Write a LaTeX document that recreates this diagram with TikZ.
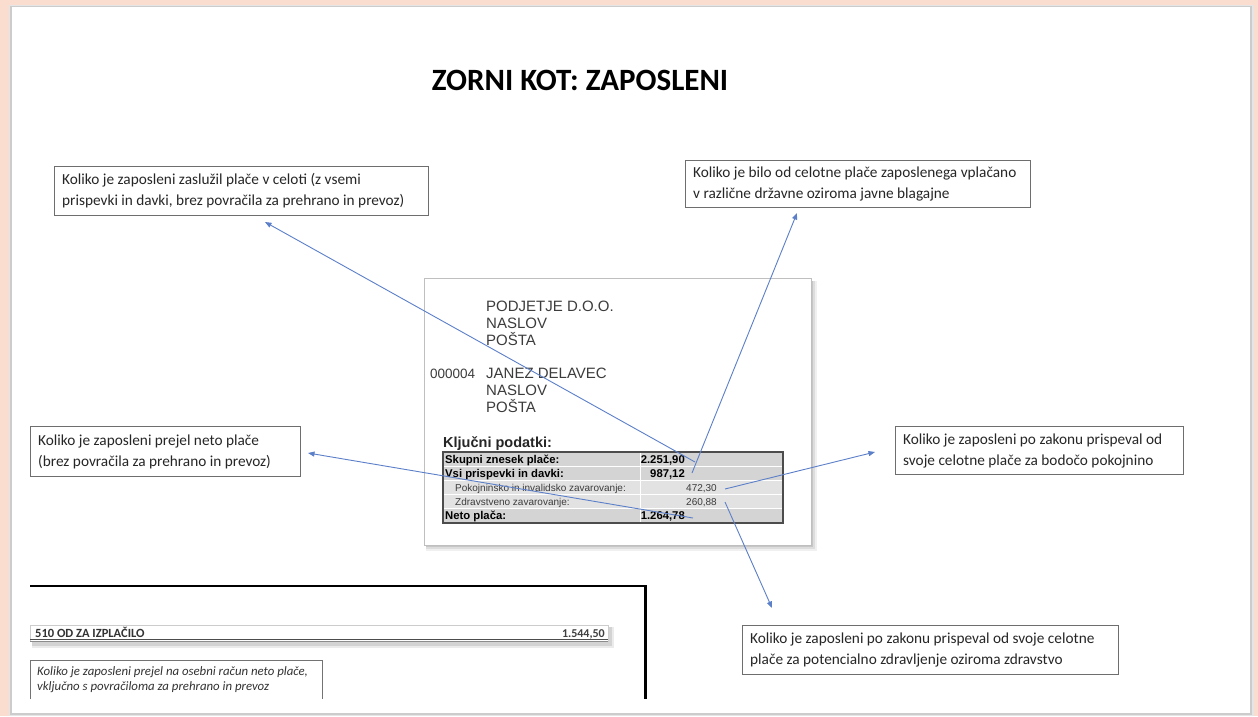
\documentclass[tikz,border=0pt]{standalone}
\usepackage{fontspec}
\setmainfont{Carlito}
\newfontfamily\arialf{Liberation Sans}
\usetikzlibrary{arrows.meta}
\definecolor{peach}{HTML}{FBDDCF}
\definecolor{arrowblue}{HTML}{5B7FC8}
\definecolor{boxline}{HTML}{6E6E6E}
\definecolor{boxtext}{HTML}{262626}
\definecolor{doctext}{HTML}{3C3C3C}
\definecolor{rowgray}{HTML}{D4D4D4}
\definecolor{rowlight}{HTML}{E2E2E2}
\tikzset{
  notebox/.style={draw=boxline, line width=1pt, fill=white, anchor=north west, inner sep=0pt},
  notetext/.style={anchor=west, align=flush left, inner sep=0pt, text=boxtext,
    font=\fontsize{15.3}{21}\selectfont},
  addr/.style={anchor=base west, inner sep=0pt, text=doctext, font=\arialf\fontsize{15}{18}\selectfont},
  tlab/.style={anchor=base west, inner sep=0pt, text=black, font=\arialf\bfseries\fontsize{11.3}{13}\selectfont},
  tval/.style={anchor=base east, inner sep=0pt, text=black, font=\arialf\bfseries\fontsize{11.3}{13}\selectfont},
  tlabs/.style={anchor=base west, inner sep=0pt, text=doctext, font=\arialf\fontsize{10}{12}\selectfont},
  tvals/.style={anchor=base east, inner sep=0pt, text=doctext, font=\arialf\fontsize{10}{12}\selectfont},
  conn/.style={draw=arrowblue, line width=0.9pt, -{Triangle[length=6.5pt,width=5pt]}},
}
\begin{document}
\begin{tikzpicture}[x=1pt,y=-1pt]
\fill[peach] (0,0) rectangle (1258,716);
\useasboundingbox (0,0) rectangle (1258,716);
% page with soft edge
\fill[black!10] (9,5) rectangle (1254,716);
\fill[black!20] (10,6) rectangle (1252,715);
\fill[white] (12,7) rectangle (1250,713);

% title
\node[font=\fontsize{31}{36}\selectfont\bfseries, text=black] (title) at (580,80) {ZORNI KOT: ZAPOSLENI};

% central document with shadow
\fill[black, opacity=0.06] (426,281) rectangle (817,551);
\fill[black, opacity=0.08] (426,281) rectangle (815,549);
\fill[black, opacity=0.10] (426,281) rectangle (813,547);
\node[draw=black!25, fill=white, line width=0.5pt, minimum width=387pt, minimum height=267pt, anchor=north west, inner sep=0pt] (doc) at (424,278) {};

\node[addr] (co1) at (486,311) {PODJETJE D.O.O.};
\node[addr] (co2) at (486,328) {NASLOV};
\node[addr] (co3) at (486,345) {POŠTA};
\node[addr, font=\arialf\fontsize{13.5}{16}\selectfont] (num) at (430,378) {000004};
\node[addr] (em1) at (486,378) {JANEZ DELAVEC};
\node[addr] (em2) at (486,395) {NASLOV};
\node[addr] (em3) at (486,412) {POŠTA};

\node[anchor=base west, inner sep=0pt, font=\arialf\bfseries\fontsize{14.5}{17}\selectfont, text=black!85] (kp) at (443,447) {Ključni podatki:};

% table
\fill[rowgray] (443,452) rectangle (783,480.4);
\fill[rowlight] (443,480.4) rectangle (783,508.8);
\fill[rowgray] (443,508.8) rectangle (783,523);
\foreach \yy in {466.2,480.4,494.6,508.8}{\draw[white, line width=0.8pt] (443,\yy) -- (783,\yy);}
\draw[white, line width=0.8pt] (640,452) -- (640,523);
\draw[black!70, line width=1.4pt] (443,452) rectangle (783,523);

\node[tlab] (l1) at (445,463) {Skupni znesek plače:};
\node[tval] (v1) at (685,463) {2.251,90};
\node[tlab] (l2) at (445,477) {Vsi prispevki in davki:};
\node[tval] (v2) at (685,477) {987,12};
\node[tlabs] (l3) at (455,491) {Pokojninsko in invalidsko zavarovanje:};
\node[tvals] (v3) at (717,491) {472,30};
\node[tlabs] (l4) at (455,505) {Zdravstveno zavarovanje:};
\node[tvals] (v4) at (717,505) {260,88};
\node[tlab] (l5) at (445,519) {Neto plača:};
\node[tval] (v5) at (685,519) {1.264,78};

% annotation boxes
\node[notebox, minimum width=374pt, minimum height=49pt] (tl) at (54,166) {};
\node[notetext] (tlt) at ([xshift=8pt]tl.west)
  {Koliko je zaposleni zaslužil plače v celoti (z vsemi\\prispevki in davki, brez povračila za prehrano in prevoz)};
\node[notebox, minimum width=345pt, minimum height=47pt] (tr) at (685,160) {};
\node[notetext] (trt) at ([xshift=8pt]tr.west)
  {Koliko je bilo od celotne plače zaposlenega vplačano\\v različne državne oziroma javne blagajne};
\node[notebox, minimum width=270pt, minimum height=50pt] (lb) at (30,426) {};
\node[notetext] (lbt) at ([xshift=8pt]lb.west)
  {Koliko je zaposleni prejel neto plače\\(brez povračila za prehrano in prevoz)};
\node[notebox, minimum width=288pt, minimum height=48pt] (rb) at (895,426) {};
\node[notetext] (rbt) at ([xshift=8pt]rb.west)
  {Koliko je zaposleni po zakonu prispeval od\\svoje celotne plače za bodočo pokojnino};
\node[notebox, minimum width=376pt, minimum height=49pt] (br) at (742,625) {};
\node[notetext] (brt) at ([xshift=8pt]br.west)
  {Koliko je zaposleni po zakonu prispeval od svoje celotne\\plače za potencialno zdravljenje oziroma zdravstvo};

% connectors
\coordinate (s1) at (695,462);  \coordinate (e1) at (265,222);
\coordinate (s2) at (692,473);  \coordinate (e2) at (797,213);
\coordinate (s3) at (725,489);  \coordinate (e3) at (875,452);
\coordinate (s4) at (725,502);  \coordinate (e4) at (772,608);
\coordinate (s5) at (693,518);  \coordinate (e5) at (308,453);
\draw[conn] (s1) -- (e1);
\draw[conn] (s2) -- (e2);
\draw[conn] (s3) -- (e3);
\draw[conn] (s4) -- (e4);
\draw[conn] (s5) -- (e5);

% bottom-left excerpt
\draw[black, line width=2.4pt] (30,586) -- (645.5,586) -- (645.5,699);
\fill[black, opacity=0.10] (32,627) rectangle (612,646);
\fill[black, opacity=0.08] (32,627) rectangle (614,648);
\node[draw=black!20, fill=white, line width=0.5pt, minimum width=578pt, minimum height=16pt, anchor=north west, inner sep=0pt] (bar) at (30,625) {};
\draw[black!70, line width=0.8pt] (30,639) -- (608,639);
\draw[black!45, line width=0.6pt] (30,641.5) -- (608,641.5);
\node[anchor=base west, inner sep=0pt, font=\fontsize{12.5}{14}\selectfont\bfseries, text=black!80] (izp) at (35,637) {510 OD ZA IZPLAČILO};
\node[anchor=base east, inner sep=0pt, font=\fontsize{12}{14}\selectfont\bfseries, text=black!75] (izpv) at (605,637) {1.544,50};
\draw[black!55, line width=0.8pt] (30,699) -- (30,660) -- (322,660) -- (322,699);
\node[anchor=north west, align=flush left, inner sep=0pt, font=\fontsize{12.8}{15}\selectfont\itshape, text=black!80] (it) at (37,666)
  {Koliko je zaposleni prejel na osebni račun neto plače,\\vključno s povračiloma za prehrano in prevoz};
\end{tikzpicture}
\end{document}
